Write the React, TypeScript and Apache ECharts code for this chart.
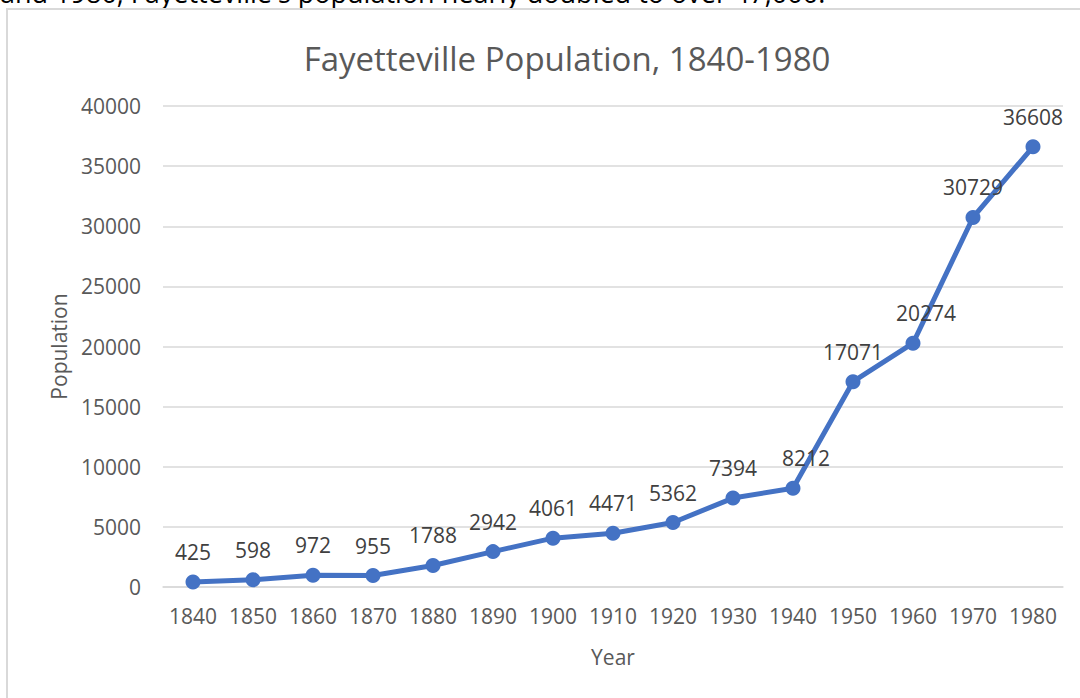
import React, { useEffect, useRef } from "react";
import * as echarts from "echarts";

const years = ["1840","1850","1860","1870","1880","1890","1900","1910","1920","1930","1940","1950","1960","1970","1980"];
const population = [425, 598, 972, 955, 1788, 2942, 4061, 4471, 5362, 7394, 8212, 17071, 20274, 30729, 36608];
const shiftedLabels = ["1940", "1960"];

const FONT = "'Open Sans', 'Noto Sans', sans-serif";

export default function App() {
  const ref = useRef<HTMLDivElement>(null);
  useEffect(() => {
    document.body.style.margin = "0";
    const chart = echarts.init(ref.current!, null, { renderer: "svg" });
    chart.setOption({
      animation: false,
      backgroundColor: "#ffffff",
      title: {
        text: "Fayetteville Population, 1840-1980",
        left: 562,
        top: 37,
        textAlign: "center",
        textStyle: { fontFamily: FONT, fontSize: 33, fontWeight: "normal", color: "#595959" },
      },
      graphic: [
        {
          type: "text",
          left: 0,
          top: -21,
          style: {
            text: "and 1980, Fayetteville's population nearly doubled to over 47,000.",
            font: `27px ${FONT}`,
            fill: "#000000",
          },
        },
        {
          type: "rect",
          shape: { x: 7, y: 9, width: 1100, height: 720 },
          style: { fill: "none", stroke: "#d9d9d9", lineWidth: 2 },
          silent: true,
        },
      ],
      grid: { left: 163, right: 17, top: 106, bottom: 111 },
      xAxis: {
        type: "category",
        data: years,
        boundaryGap: true,
        name: "Year",
        nameLocation: "middle",
        nameGap: 59,
        nameTextStyle: { fontFamily: FONT, fontSize: 21, color: "#595959" },
        axisLine: { lineStyle: { color: "#d9d9d9", width: 1.5 } },
        axisTick: { show: false },
        axisLabel: { fontFamily: FONT, fontSize: 21, color: "#595959", margin: 18, interval: 0 },
      },
      yAxis: {
        type: "value",
        min: 0,
        max: 40000,
        interval: 5000,
        name: "Population",
        nameLocation: "middle",
        nameRotate: 90,
        nameGap: 94,
        nameTextStyle: { fontFamily: FONT, fontSize: 21, color: "#595959" },
        axisLine: { show: false },
        axisTick: { show: false },
        axisLabel: {
          fontFamily: FONT,
          fontSize: 21,
          color: "#595959",
          margin: 22,
          formatter: (v: number) => String(v),
        },
        splitLine: { lineStyle: { color: "#d9d9d9", width: 1.5 } },
      },
      series: [
        {
          type: "line",
          data: population.map((v, i) => ({
            value: v,
            label: shiftedLabels.includes(years[i]) ? { offset: [13, 0] } : undefined,
          })),
          symbol: "circle",
          symbolSize: 15,
          lineStyle: { color: "#4472C4", width: 5 },
          itemStyle: { color: "#4472C4" },
          label: {
            show: true,
            position: "top",
            distance: 12,
            fontFamily: FONT,
            fontSize: 21,
            color: "#404040",
          },
        },
      ],
    });
    return () => chart.dispose();
  }, []);
  return <div ref={ref} style={{ width: 1080, height: 698 }} />;
}
